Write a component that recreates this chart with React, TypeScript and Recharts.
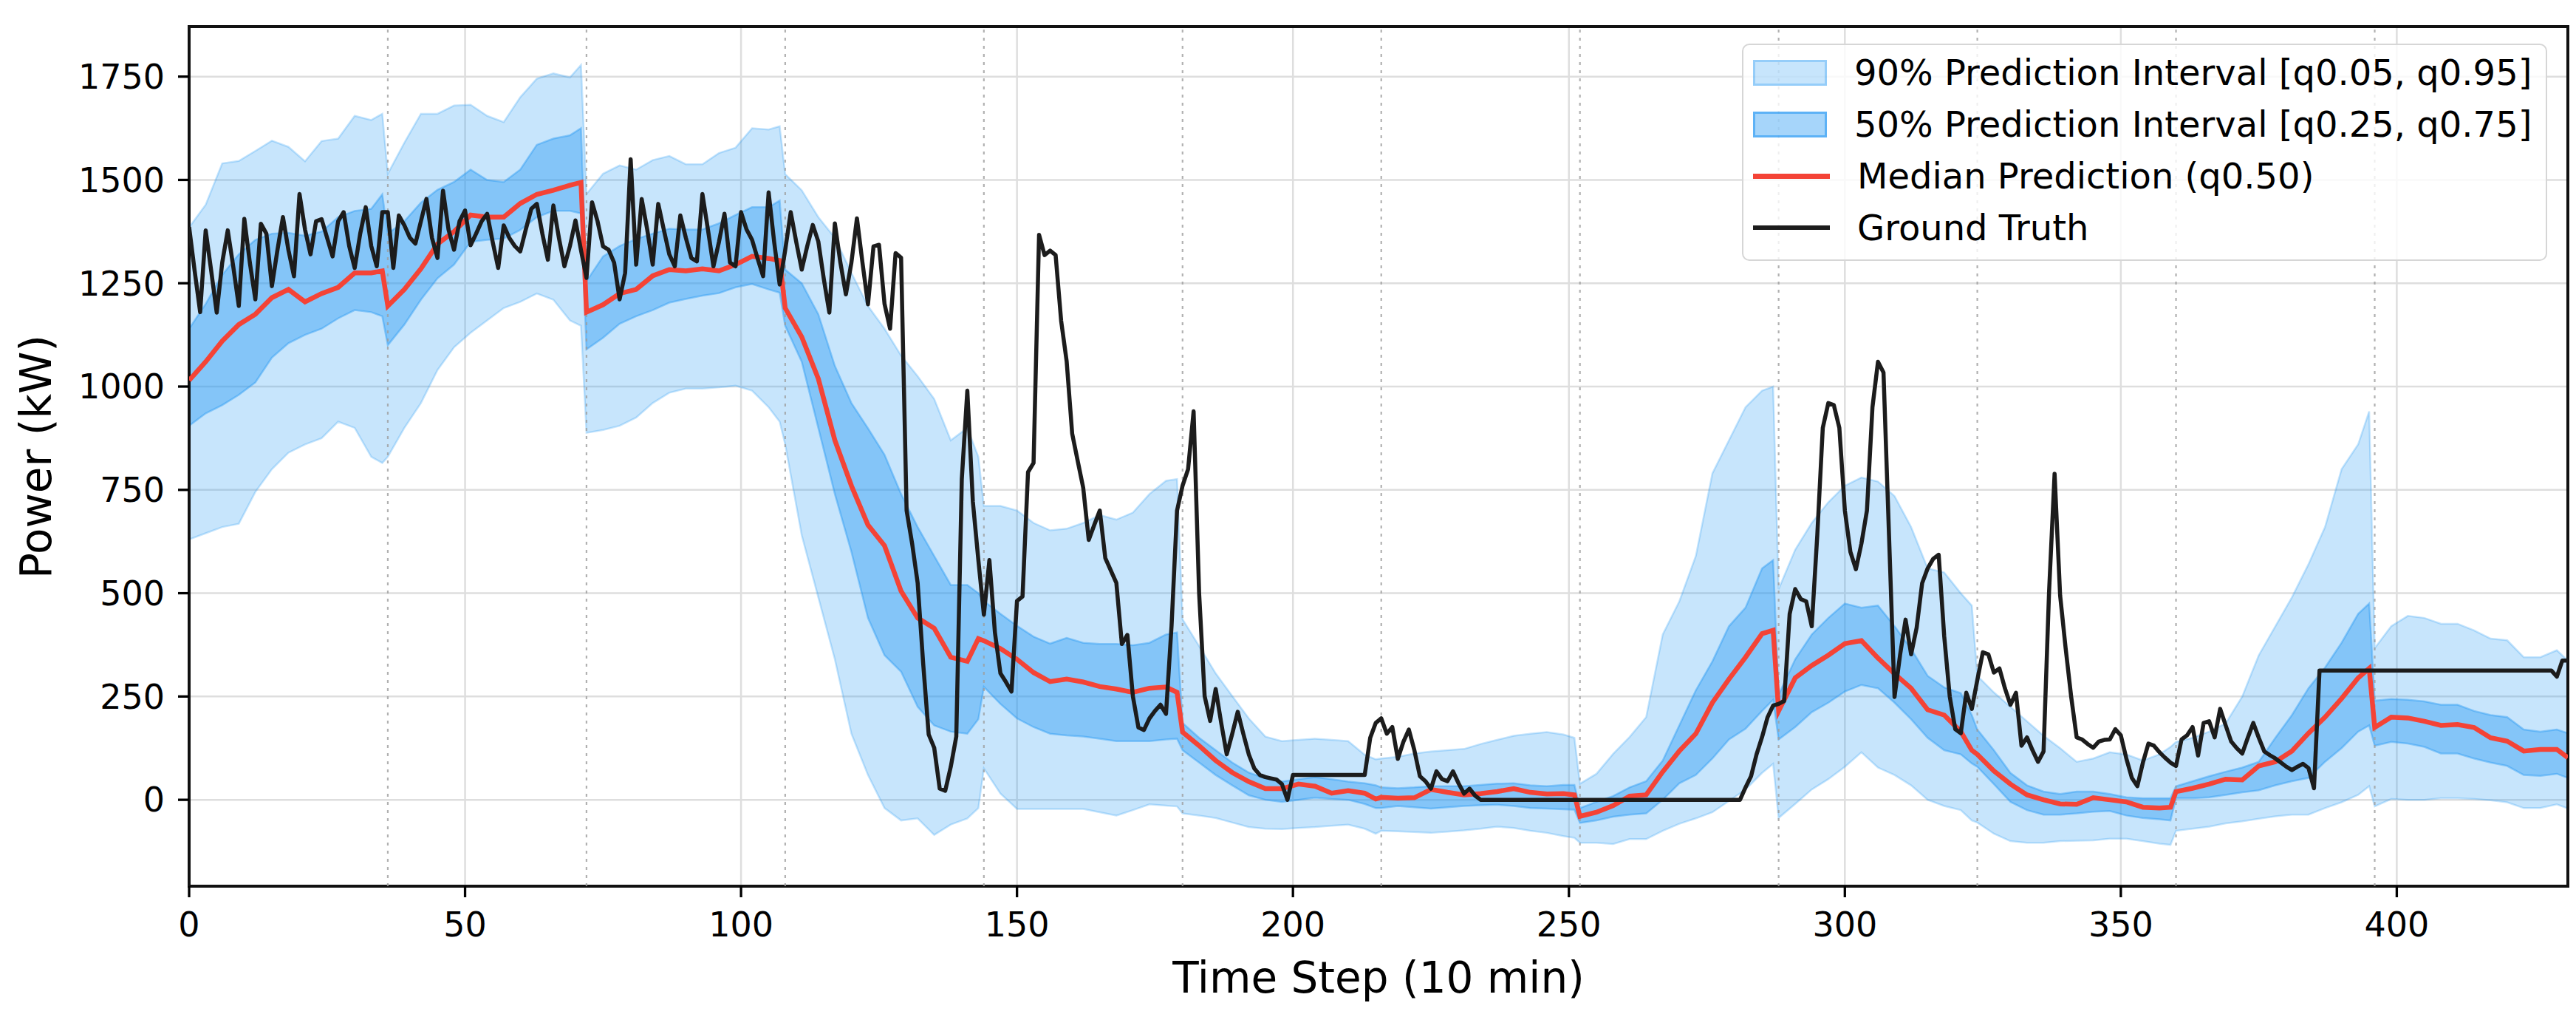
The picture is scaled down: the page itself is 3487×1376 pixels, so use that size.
import React from "react";
import { Area, CartesianGrid, ComposedChart, Line, ReferenceArea, ReferenceLine, XAxis, YAxis } from "recharts";

// forecast blocks of 36 steps, sampled every 3 steps plus the last step of each block
const bandSteps = [
    0, 3, 6, 9, 12, 15, 18, 21, 24, 27, 30, 33, 35,
    36, 39, 42, 45, 48, 51, 54, 57, 60, 63, 66, 69, 71,
    72, 75, 78, 81, 84, 87, 90, 93, 96, 99, 102, 105, 107,
    108, 111, 114, 117, 120, 123, 126, 129, 132, 135, 138, 141, 143,
    144, 147, 150, 153, 156, 159, 162, 165, 168, 171, 174, 177, 179,
    180, 183, 186, 189, 192, 195, 198, 201, 204, 207, 210, 213, 215,
    216, 219, 222, 225, 228, 231, 234, 237, 240, 243, 246, 249, 251,
    252, 255, 258, 261, 264, 267, 270, 273, 276, 279, 282, 285, 287,
    288, 291, 294, 297, 300, 303, 306, 309, 312, 315, 318, 321, 323,
    324, 327, 330, 333, 336, 339, 342, 345, 348, 351, 354, 357, 359,
    360, 363, 366, 369, 372, 375, 378, 381, 384, 387, 390, 393, 395,
    396, 399, 402, 405, 408, 411, 414, 417, 420, 423, 426, 429, 431,
];

const q05 = [
    630, 645, 660, 668, 745, 800, 840, 860, 875, 915, 900, 830, 815,
    830, 900, 960, 1040, 1095, 1130, 1160, 1190, 1205, 1225, 1210, 1160, 1147,
    888, 895, 905, 925, 960, 985, 995, 995, 998, 1002, 990, 950, 915,
    860, 640, 490, 340, 160, 60, -20, -50, -45, -85, -60, -45, -20,
    76, 15, -22, -22, -22, -22, -22, -30, -38, -25, -11, -14, -16,
    -33, -38, -44, -55, -66, -70, -71, -68, -66, -63, -60, -70, -82,
    -75, -76, -78, -80, -77, -74, -70, -65, -68, -75, -80, -88, -92,
    -104, -104, -107, -95, -95, -75, -58, -45, -30, -3, 25, 65, 87,
    -44, -10, 25, 50, 80, 115, 78, 60, 35, 0, -15, -25, -50,
    -55, -82, -100, -104, -104, -100, -99, -98, -94, -94, -100, -106, -109,
    -75, -70, -65, -57, -52, -46, -40, -36, -36, -20, -6, 12, 33,
    -16, 2, 0, 0, 4, 4, 2, -1, -6, -20, -20, -11, -21,
];

const q25 = [
    905, 935, 955, 980, 1010, 1070, 1105, 1125, 1140, 1165, 1185, 1180, 1170,
    1100, 1150, 1210, 1262, 1295, 1350, 1355, 1358, 1379, 1410, 1425, 1425, 1419,
    1090, 1118, 1152, 1170, 1185, 1203, 1212, 1220, 1226, 1240, 1248, 1235, 1227,
    1147, 1060, 900, 740, 600, 440, 350, 310, 225, 180, 165, 160, 195,
    273, 232, 197, 176, 160, 156, 153, 148, 142, 142, 142, 146, 148,
    120, 90, 60, 35, 11, 0, -5, 0, 5, 2, 0, -10, -20,
    -20, -15, -18, -21, -18, -15, -13, -12, -15, -20, -21, -23, -24,
    -56, -50, -41, -36, -33, 0, 40, 60, 100, 146, 172, 215, 242,
    146, 176, 212, 235, 262, 278, 270, 235, 195, 150, 120, 110, 88,
    80, 38, -5, -25, -36, -36, -33, -29, -27, -38, -44, -47, -50,
    4, 4, 6, 12, 18, 23, 35, 45, 53, 92, 125, 165, 180,
    131, 140, 136, 128, 112, 112, 100, 90, 82, 60, 58, 63, 53,
];

const q50 = [
    1015, 1060, 1110, 1150, 1175, 1215, 1235, 1205, 1225, 1240, 1275, 1275, 1280,
    1195, 1235, 1285, 1345, 1375, 1415, 1410, 1410, 1443, 1465, 1475, 1487, 1494,
    1180, 1198, 1225, 1235, 1268, 1283, 1280, 1285, 1280, 1295, 1315, 1310, 1305,
    1190, 1120, 1019, 870, 760, 665, 615, 505, 440, 415, 345, 335, 390,
    385, 366, 340, 308, 286, 292, 285, 274, 268, 260, 270, 273, 260,
    164, 131, 95, 66, 44, 27, 27, 38, 33, 16, 22, 16, 2,
    6, 4, 5, 25, 18, 12, 15, 20, 27, 18, 14, 15, 12,
    -40, -30, -14, 9, 12, 68, 118, 160, 235, 292, 345, 402, 410,
    215, 295, 325, 350, 378, 385, 343, 305, 270, 218, 205, 165, 120,
    110, 70, 38, 12, 0, -10, -11, 5, 0, -5, -18, -20, -18,
    20, 28, 38, 50, 48, 82, 92, 118, 161, 200, 245, 295, 318,
    175, 200, 198, 190, 180, 182, 175, 150, 142, 118, 122, 122, 102,
];

const q75 = [
    1140, 1200, 1270, 1320, 1355, 1370, 1372, 1365, 1375, 1410, 1425, 1430, 1465,
    1370, 1400, 1445, 1476, 1495, 1525, 1500, 1495, 1525, 1585, 1600, 1608, 1625,
    1255, 1315, 1340, 1357, 1370, 1382, 1380, 1380, 1395, 1415, 1434, 1434, 1450,
    1283, 1250, 1175, 1050, 960, 899, 835, 740, 660, 590, 520, 520, 500,
    481, 450, 421, 395, 378, 392, 380, 377, 377, 374, 380, 400, 405,
    186, 150, 120, 90, 66, 52, 44, 50, 55, 50, 44, 40, 35,
    30, 28, 30, 33, 33, 33, 36, 39, 40, 35, 33, 36, 36,
    -20, -5, 9, 30, 45, 95, 180, 265, 335, 420, 465, 560, 580,
    254, 340, 400, 440, 475, 465, 470, 420, 365, 300, 272, 258, 205,
    170, 120, 65, 35, 20, 14, 20, 20, 14, 6, 4, 4, 4,
    33, 45, 57, 68, 78, 92, 150, 205, 270, 320, 380, 450, 475,
    240, 244, 242, 238, 230, 230, 215, 205, 200, 170, 165, 170, 161,
];

const q95 = [
    1385, 1440, 1540, 1546, 1570, 1595, 1580, 1545, 1594, 1600, 1655, 1645, 1660,
    1515, 1590, 1660, 1660, 1680, 1682, 1655, 1640, 1700, 1745, 1758, 1748, 1778,
    1466, 1515, 1535, 1525, 1548, 1558, 1538, 1538, 1565, 1578, 1625, 1622, 1630,
    1514, 1475, 1410, 1360, 1275, 1195, 1140, 1075, 1025, 970, 870, 900, 830,
    711, 711, 700, 670, 652, 656, 670, 689, 678, 695, 740, 772, 776,
    437, 372, 306, 251, 197, 153, 142, 145, 148, 145, 142, 109, 98,
    100, 104, 112, 117, 120, 123, 135, 145, 155, 160, 164, 158, 150,
    39, 63, 111, 152, 200, 400, 480, 590, 790, 870, 950, 990, 1000,
    510, 605, 670, 720, 760, 780, 770, 735, 660, 560, 550, 500, 470,
    300, 260, 225, 190, 155, 125, 92, 100, 115, 110, 95, 110, 128,
    140, 150, 165, 185, 250, 350, 420, 490, 570, 660, 800, 860, 940,
    367, 420, 445, 440, 426, 426, 410, 390, 386, 345, 345, 362, 337,
];

// ground truth, one value per step 0..431
const truth = [
    1386, 1280, 1180, 1378, 1280, 1179, 1300, 1378, 1290, 1195,
    1406, 1300, 1211, 1394, 1370, 1243, 1330, 1410, 1330, 1267,
    1466, 1380, 1320, 1400, 1405, 1360, 1315, 1400, 1422, 1340,
    1287, 1370, 1434, 1340, 1291, 1422, 1422, 1287, 1414, 1390,
    1360, 1346, 1400, 1454, 1360, 1311, 1474, 1380, 1331, 1400,
    1426, 1342, 1370, 1400, 1418, 1350, 1287, 1390, 1360, 1340,
    1327, 1380, 1430, 1442, 1370, 1307, 1438, 1360, 1291, 1340,
    1402, 1330, 1263, 1446, 1400, 1339, 1331, 1300, 1211, 1275,
    1550, 1295, 1454, 1380, 1295, 1442, 1380, 1320, 1291, 1414,
    1360, 1311, 1303, 1466, 1380, 1291, 1350, 1418, 1300, 1291,
    1422, 1380, 1355, 1310, 1267, 1470, 1350, 1247, 1330, 1422,
    1350, 1283, 1340, 1391, 1351, 1260, 1179, 1395, 1300, 1223,
    1300, 1407, 1300, 1199, 1339, 1343, 1200, 1140, 1323, 1312,
    700, 620, 525, 330, 158, 126, 27, 22, 80, 153,
    776, 990, 722, 580, 448, 580, 405, 306, 285, 262,
    481, 492, 793, 815, 1367, 1318, 1329, 1318, 1159, 1061,
    886, 820, 755, 629, 665, 700, 585, 555, 525, 377,
    399, 250, 175, 169, 197, 215, 230, 208, 420, 700,
    760, 800, 940, 500, 251, 191, 268, 186, 110, 160,
    213, 160, 110, 76, 60, 55, 52, 49, 38, 0,
    60, 60, 60, 60, 60, 60, 60, 60, 60, 60,
    60, 60, 60, 60, 150, 186, 197, 160, 176, 99,
    140, 170, 120, 57, 45, 27, 69, 50, 45, 69,
    40, 15, 27, 10, 0, 0, 0, 0, 0, 0,
    0, 0, 0, 0, 0, 0, 0, 0, 0, 0,
    0, 0, 0, 0, 0, 0, 0, 0, 0, 0,
    0, 0, 0, 0, 0, 0, 0, 0, 0, 0,
    0, 0, 0, 0, 0, 0, 0, 0, 0, 0,
    0, 0, 30, 57, 110, 152, 200, 228, 232, 239,
    450, 510, 486, 480, 420, 640, 900, 960, 955, 900,
    700, 600, 558, 620, 700, 950, 1060, 1034, 640, 249,
    350, 436, 352, 416, 524, 560, 583, 593, 396, 250,
    171, 161, 259, 220, 290, 357, 352, 308, 318, 270,
    230, 259, 131, 151, 120, 92, 117, 504, 789, 495,
    367, 250, 151, 146, 135, 126, 141, 145, 146, 171,
    156, 100, 53, 33, 90, 136, 131, 115, 102, 90,
    82, 146, 156, 176, 107, 186, 190, 151, 220, 180,
    141, 125, 112, 150, 186, 150, 117, 108, 100, 90,
    80, 72, 80, 87, 77, 28, 313, 313, 313, 313,
    313, 313, 313, 313, 313, 313, 313, 313, 313, 313,
    313, 313, 313, 313, 313, 313, 313, 313, 313, 313,
    313, 313, 313, 313, 313, 313, 313, 313, 313, 313,
    313, 313, 313, 313, 313, 313, 313, 313, 313, 298,
    337, 337,
];

const xTicks = [0, 50, 100, 150, 200, 250, 300, 350, 400];
const yTicks = [0, 250, 500, 750, 1000, 1250, 1500, 1750];
const blockStarts = [36, 72, 108, 144, 180, 216, 252, 288, 324, 360, 396];
const X_DOMAIN: [number, number] = [0, 431];
const Y_DOMAIN: [number, number] = [-209, 1871];

const FONT = "'DejaVu Sans', 'Liberation Sans', sans-serif";
const BLUE = "#2196F3";
const RED = "#F44336";
const INK = "#1c1c1c";

const W = 3471;
const H = 1355;
const MARGIN = { top: 28, right: 3, bottom: 64, left: 0 };
const Y_AXIS_W = 248;
const X_AXIS_H = 100;

const bandRows = bandSteps.map((step, i) => ({
    step,
    outer: [q05[i], q95[i]],
    inner: [q25[i], q75[i]],
    median: q50[i],
}));
const truthRows = truth.map((value, step) => ({ step, truth: value }));

function LegendBox() {
    const rows = [
        { label: "90% Prediction Interval [q0.05, q0.95]", kind: "patch", fill: "rgba(33,150,243,0.25)", edge: "rgba(33,150,243,0.3)" },
        { label: "50% Prediction Interval [q0.25, q0.75]", kind: "patch", fill: "rgba(33,150,243,0.4)", edge: "rgba(33,150,243,0.55)" },
        { label: "Median Prediction (q0.50)", kind: "line", color: RED, width: 7 },
        { label: "Ground Truth", kind: "line", color: INK, width: 6 },
    ];
    return (
        <div
            style={{
                position: "absolute",
                left: 2350,
                top: 51,
                width: 1090,
                height: 294,
                boxSizing: "border-box",
                border: "2.5px solid #d6d6d6",
                borderRadius: 10,
                background: "rgba(255,255,255,0.8)",
                paddingTop: 2,
                fontFamily: FONT,
                fontSize: 48,
                color: "#000",
            }}
        >
            {rows.map((r) => (
                <div key={r.label} style={{ display: "flex", alignItems: "center", height: 70 }}>
                    {r.kind === "patch" ? (
                        <div
                            style={{
                                marginLeft: 13,
                                width: 100,
                                height: 35,
                                boxSizing: "border-box",
                                background: r.fill,
                                border: `3px solid ${r.edge}`,
                            }}
                        />
                    ) : (
                        <div style={{ marginLeft: 13, width: 104, height: r.width, background: r.color }} />
                    )}
                    <span style={{ marginLeft: 37, whiteSpace: "nowrap" }}>{r.label}</span>
                </div>
            ))}
        </div>
    );
}

export default function App() {
    const plotLeft = MARGIN.left + Y_AXIS_W;
    const plotRight = W - MARGIN.right;
    const plotTop = MARGIN.top;
    const plotBottom = H - MARGIN.bottom - X_AXIS_H;

    return (
        <div style={{ position: "relative", width: W, height: H, fontFamily: FONT, background: "#fff" }}>
            <ComposedChart width={W} height={H} margin={MARGIN}>
                <CartesianGrid stroke="#dedede" strokeWidth={2.5} />
                <XAxis
                    type="number"
                    dataKey="step"
                    domain={X_DOMAIN}
                    ticks={xTicks}
                    allowDataOverflow
                    height={X_AXIS_H}
                    axisLine={false}
                    tickLine={{ stroke: "#000", strokeWidth: 3.3 }}
                    tickSize={15}
                    tickMargin={20}
                    tick={{ fill: "#000", fontSize: 46, fontFamily: FONT }}
                />
                <YAxis
                    type="number"
                    domain={Y_DOMAIN}
                    ticks={yTicks}
                    allowDataOverflow
                    width={Y_AXIS_W}
                    axisLine={false}
                    tickLine={{ stroke: "#000", strokeWidth: 3.3 }}
                    tickSize={15}
                    tickMargin={18}
                    tick={{ fill: "#000", fontSize: 46, fontFamily: FONT }}
                />
                {blockStarts.map((b) => (
                    <ReferenceLine key={b} x={b} stroke="#9e9e9e" strokeWidth={2.2} strokeDasharray="4 7" strokeOpacity={0.8} />
                ))}
                <Area
                    data={bandRows}
                    dataKey="outer"
                    type="linear"
                    fill={BLUE}
                    fillOpacity={0.25}
                    stroke={BLUE}
                    strokeOpacity={0.25}
                    strokeWidth={2.5}
                    dot={false}
                    activeDot={false}
                    isAnimationActive={false}
                />
                <Area
                    data={bandRows}
                    dataKey="inner"
                    type="linear"
                    fill={BLUE}
                    fillOpacity={0.4}
                    stroke={BLUE}
                    strokeOpacity={0.4}
                    strokeWidth={2.5}
                    dot={false}
                    activeDot={false}
                    isAnimationActive={false}
                />
                <Line
                    data={bandRows}
                    dataKey="median"
                    type="linear"
                    stroke={RED}
                    strokeWidth={6.5}
                    dot={false}
                    activeDot={false}
                    isAnimationActive={false}
                />
                <Line
                    data={truthRows}
                    dataKey="truth"
                    type="linear"
                    stroke={INK}
                    strokeWidth={5.5}
                    strokeLinejoin="round"
                    dot={false}
                    activeDot={false}
                    isAnimationActive={false}
                />
                <ReferenceArea
                    x1={X_DOMAIN[0]}
                    x2={X_DOMAIN[1]}
                    y1={Y_DOMAIN[0]}
                    y2={Y_DOMAIN[1]}
                    fill="none"
                    fillOpacity={0}
                    stroke="#111"
                    strokeWidth={4}
                    ifOverflow="visible"
                />
            </ComposedChart>

            {/* axis titles */}
            <div
                style={{
                    position: "absolute",
                    left: plotLeft,
                    width: plotRight - plotLeft,
                    top: 1315 - 35,
                    height: 70,
                    lineHeight: "70px",
                    textAlign: "center",
                    fontSize: 58,
                    color: "#000",
                }}
            >
                Time Step (10 min)
            </div>
            <div
                style={{
                    position: "absolute",
                    left: 41,
                    top: (plotTop + plotBottom) / 2,
                    transform: "translate(-50%, -50%) rotate(-90deg)",
                    whiteSpace: "nowrap",
                    fontSize: 58,
                    lineHeight: "70px",
                    color: "#000",
                }}
            >
                Power (kW)
            </div>

            <LegendBox />
        </div>
    );
}
